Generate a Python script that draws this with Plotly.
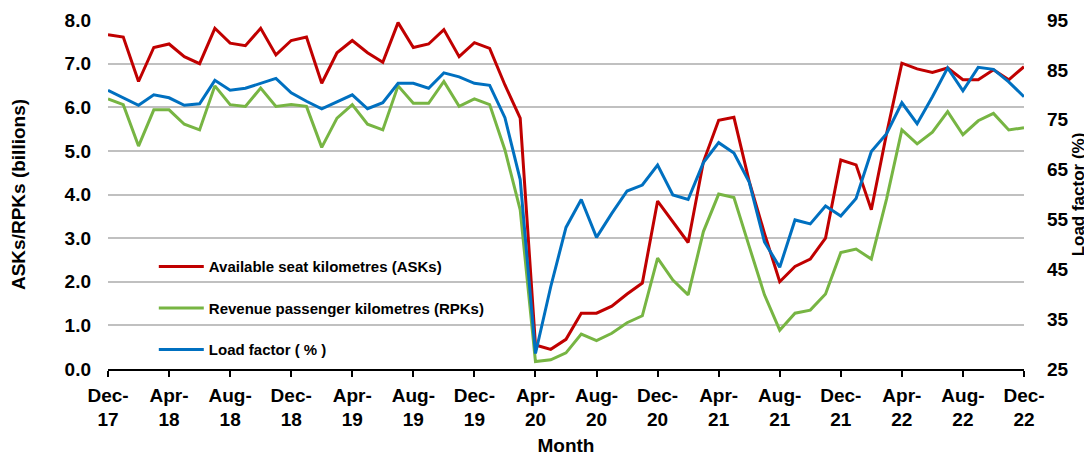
import plotly.graph_objects as go
import pandas as pd

months = [d.strftime("%b-%y") for d in pd.date_range("2017-12-01", "2022-12-01", freq="MS")]

asks = [7.66, 7.61, 6.59, 7.37, 7.45, 7.16, 7.00, 7.81, 7.47, 7.41, 7.81, 7.20, 7.53, 7.61, 6.55, 7.25,
        7.53, 7.25, 7.03, 7.94, 7.37, 7.45, 7.78, 7.16, 7.48, 7.35, 6.51, 5.75, 0.55, 0.45, 0.68, 1.28,
        1.28, 1.44, 1.72, 1.97, 3.85, 3.38, 2.90, 4.75, 5.70, 5.77, 4.30, 3.11, 2.00, 2.35, 2.52, 3.00,
        4.79, 4.68, 3.65, 5.40, 7.01, 6.88, 6.80, 6.90, 6.63, 6.63, 6.86, 6.63, 6.93]
rpks = [6.19, 6.06, 5.11, 5.94, 5.94, 5.61, 5.48, 6.49, 6.06, 6.02, 6.44, 6.02, 6.06, 6.02, 5.08, 5.75,
        6.06, 5.61, 5.48, 6.49, 6.09, 6.09, 6.59, 6.02, 6.19, 6.06, 5.02, 3.65, 0.17, 0.21, 0.37, 0.80,
        0.65, 0.82, 1.06, 1.22, 2.54, 2.04, 1.70, 3.15, 4.01, 3.93, 2.81, 1.70, 0.89, 1.28, 1.35, 1.72,
        2.67, 2.75, 2.52, 3.90, 5.48, 5.16, 5.43, 5.90, 5.37, 5.69, 5.86, 5.48, 5.53]
load_factor = [80.9, 79.4, 77.9, 80.0, 79.4, 77.9, 78.2, 82.9, 80.9, 81.3, 82.3, 83.3, 80.4, 78.7, 77.2, 78.6,
               80.0, 77.2, 78.4, 82.3, 82.3, 81.3, 84.4, 83.6, 82.3, 81.9, 75.4, 63.0, 28.1, 41.5, 53.4, 59.0,
               51.4, 56.2, 60.7, 61.9, 65.9, 59.9, 59.0, 66.4, 70.4, 68.3, 62.5, 50.5, 45.4, 54.9, 54.1, 57.7,
               55.7, 59.2, 68.6, 72.2, 78.4, 74.2, 79.6, 85.4, 80.8, 85.5, 85.1, 82.6, 79.6]

tick_months = months[::4]
tick_text = [m.replace("-", "-<br>") for m in tick_months]

FONT = "Liberation Sans, Arial, sans-serif"

fig = go.Figure()
fig.add_trace(go.Scatter(x=months, y=asks, mode="lines", name="Available seat kilometres (ASKs)",
                         line=dict(color="#C00000", width=3), legendgroup="a"))
fig.add_trace(go.Scatter(x=months, y=rpks, mode="lines", name="Revenue passenger kilometres (RPKs)",
                         line=dict(color="#77B543", width=3), legendgroup="b"))
fig.add_trace(go.Scatter(x=months, y=load_factor, mode="lines", name="Load factor ( % )", yaxis="y2",
                         line=dict(color="#0070C0", width=3), legendgroup="c"))

# page body adds an 8px margin, so the figure is 8px smaller each way
fig.update_layout(
    width=1084, height=449,
    margin=dict(l=100, r=68, t=12, b=88, autoexpand=False),
    paper_bgcolor="white", plot_bgcolor="white",
    font=dict(family=FONT, color="black", size=19),
    xaxis=dict(type="category", range=[0, len(months) - 1], tickmode="array", tickvals=tick_months,
               ticktext=tick_text, ticks="outside", ticklen=6, tickwidth=1.5, tickcolor="black",
               showline=True, linecolor="black", linewidth=1.5, showgrid=False, automargin=False,
               ticklabelstandoff=2, tickfont=dict(size=19, weight="bold"),
               title=dict(text="<b>Month</b>", font=dict(size=19), standoff=9)),
    yaxis=dict(range=[0, 8], dtick=1, tickformat=".1f", showgrid=True, gridcolor="#C0C0C0", gridwidth=1.5,
               zeroline=False, showline=False, ticks="", ticklabelstandoff=16, automargin=False,
               tickfont=dict(size=19, weight="bold"),
               title=dict(text="<b>ASKs/RPKs (billions)</b>", font=dict(size=19), standoff=36)),
    yaxis2=dict(range=[25, 95], tick0=25, dtick=10, overlaying="y", side="right", showgrid=False,
                zeroline=False, showline=False, ticks="", ticklabelstandoff=22, automargin=False,
                tickfont=dict(size=19, weight="bold"),
                title=dict(text="<b>Load factor (%)</b>", font=dict(size=17), standoff=0)),
    showlegend=True,
    legend=dict(x=0.05, y=0.34, xanchor="left", yanchor="top", bgcolor="rgba(0,0,0,0)",
                font=dict(size=15, weight="bold"), tracegroupgap=19, traceorder="grouped",
                itemwidth=45),
)

fig.write_html("out.html")
